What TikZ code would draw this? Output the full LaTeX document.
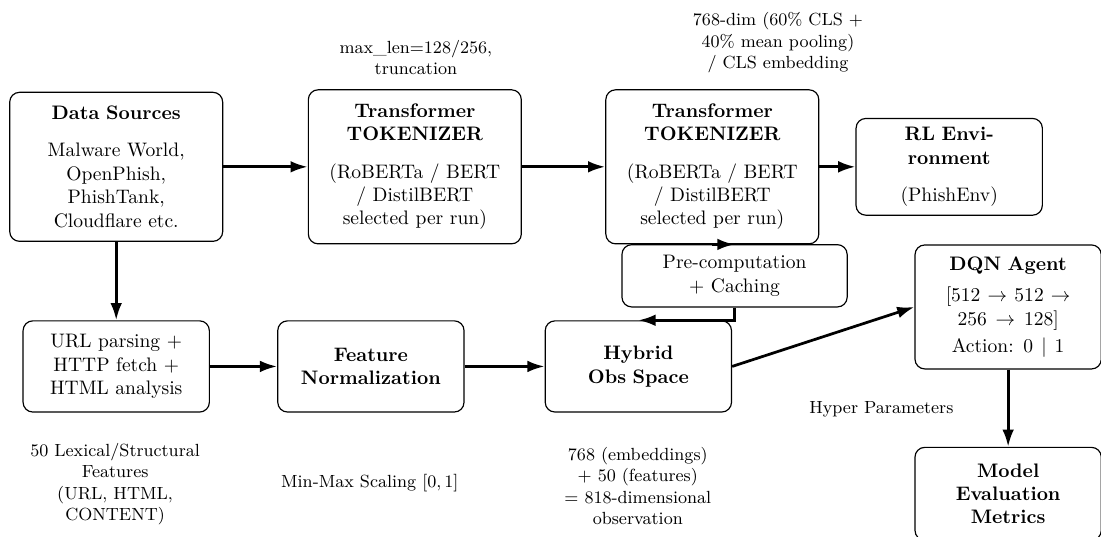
\documentclass[tikz,border=0pt]{standalone}
\usepackage{amsmath,amssymb}
\usepackage{tikz}
\usetikzlibrary{arrows.meta}

\begin{document}
\begin{tikzpicture}[
  stagebox/.style={draw, rounded corners=5pt, line width=0.6pt, align=center, text width=2.7cm, minimum width=3.35cm, minimum height=1.64cm, inner sep=4pt},
  widebox/.style={stagebox, text width=3.4cm, minimum width=3.83cm, minimum height=2.77cm},
  notelabel/.style={align=center, inner sep=1pt, font=\small},
  flowarrow/.style={-{Latex[length=3.1mm,width=2.1mm]}, line width=1.4pt}
]
\useasboundingbox (0,0) rectangle (19.80,-9.64);

\node[stagebox, text width=3.3cm, minimum width=3.83cm, minimum height=2.68cm] (src) at (2.09,-3.00) {
  \textbf{Data Sources}\\[7pt]
  Malware World,\\
  OpenPhish,\\
  PhishTank,\\
  Cloudflare etc.
};

\node[widebox] (tok1) at (7.46,-3.00) {
  \textbf{Transformer}\\
  \textbf{TOKENIZER}\\[7pt]
  (RoBERTa / BERT\\
  / DistilBERT\\
  selected per run)
};

\node[widebox] (tok2) at (12.81,-3.00) {
  \textbf{Transformer}\\
  \textbf{TOKENIZER}\\[7pt]
  (RoBERTa / BERT\\
  / DistilBERT\\
  selected per run)
};

\node[stagebox, minimum height=1.74cm] (rl) at (17.07,-3.00) {
  \textbf{RL Envi-}\\
  \textbf{ronment}\\[7pt]
  (PhishEnv)
};

\node[stagebox, minimum width=4.05cm, minimum height=1.12cm] (pre) at (13.21,-4.96) {
  Pre-computation\\
  + Caching
};

\node[stagebox, minimum height=2.23cm] (dqn) at (18.13,-5.52) {
  \textbf{DQN Agent}\\[4pt]
  $[512 \rightarrow 512 \rightarrow$\\
  $256 \rightarrow 128]$\\[2pt]
  Action: $0 \mid 1$
};

\node[stagebox] (url) at (2.09,-6.59) {
  URL parsing +\\
  HTTP fetch +\\
  HTML analysis
};

\node[stagebox] (norm) at (6.67,-6.59) {
  \textbf{Feature}\\
  \textbf{Normalization}
};

\node[stagebox] (hyb) at (11.48,-6.59) {
  \textbf{Hybrid}\\
  \textbf{Obs Space}
};

\node[stagebox, minimum height=1.67cm] (eval) at (18.13,-8.88) {
  \textbf{Model}\\
  \textbf{Evaluation}\\
  \textbf{Metrics}
};

\node[notelabel] (lenlbl) at (7.48,-1.03) {max\_len=128/256,\\truncation};
\node[notelabel] (embl) at (13.99,-0.77) {768-dim (60\% CLS +\\40\% mean pooling)\\/ CLS embedding};
\node[notelabel] (featlbl) at (2.07,-8.71) {50 Lexical/Structural\\Features\\(URL, HTML,\\CONTENT)};
\node[notelabel] (scalelbl) at (6.65,-8.69) {Min-Max Scaling $[0,1]$};
\node[notelabel] (obslbl) at (11.47,-8.74) {768 (embeddings)\\+ 50 (features)\\= 818-dimensional\\observation};
\node[notelabel] (hyplbl) at (15.85,-7.36) {Hyper Parameters};

\draw[flowarrow] (src) -- (tok1);
\draw[flowarrow] (tok1) -- (tok2);
\draw[flowarrow] (tok2) -- (rl);
\draw[flowarrow] (src) -- (url);
\draw[flowarrow] (url) -- (norm);
\draw[flowarrow] (norm) -- (hyb);
\draw[flowarrow] (tok2.south) -- (tok2.south -| pre.north);
\draw[flowarrow] (pre.south) |- (hyb.north);
\draw[flowarrow] (hyb.east) -- (dqn.west);
\draw[flowarrow] (dqn) -- (eval);
\end{tikzpicture}
\end{document}
